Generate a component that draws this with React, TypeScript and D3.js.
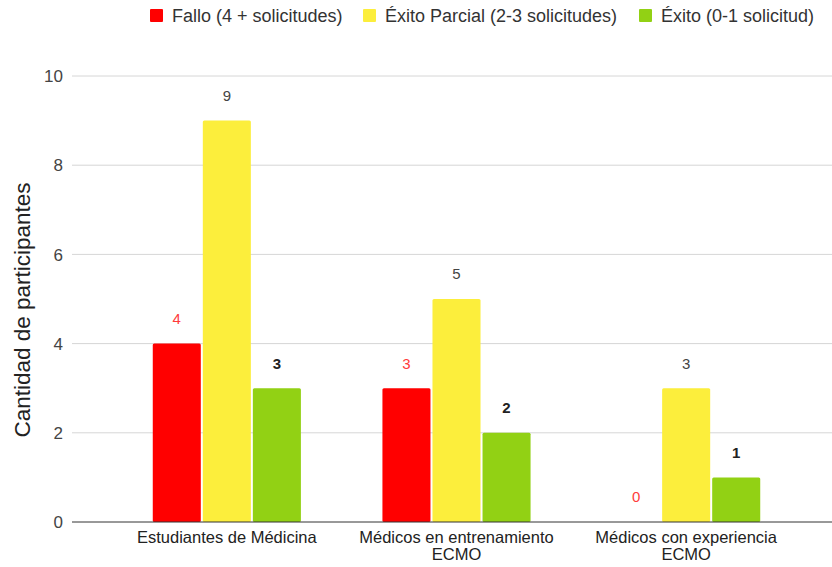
import React from "react";
import * as d3 from "d3";

const categories = ["Estudiantes de Medicina", "Médicos en entrenamiento ECMO", "Médicos con experiencia ECMO"];
const categoryLines = [["Estudiantes de Médicina"], ["Médicos en entrenamiento", "ECMO"], ["Médicos con experiencia", "ECMO"]];
const seriesNames = ["Fallo (4 + solicitudes)", "Éxito Parcial (2-3 solicitudes)", "Éxito (0-1 solicitud)"];
const fallo = [4, 3, 0];
const exitoParcial = [9, 5, 3];
const exito = [3, 2, 1];
const yTicks = [0, 2, 4, 6, 8, 10];

const seriesValues = [fallo, exitoParcial, exito];
const colors = ["#ff0000", "#fcee3c", "#92d114"];
const labelColors = ["#ff3b3b", "#444444", "#222222"];
const labelWeights = [400, 400, 700];

const W = 832;
const H = 567;
const FONT = "'Liberation Sans', Arial, sans-serif";

export default function App() {
  const y = d3.scaleLinear().domain([0, 10]).range([522, 76]);
  const x0 = d3.scaleBand<string>().domain(categories).range([112, 801]).paddingInner(0.355).paddingOuter(0.1775);
  const x1 = d3.scaleBand<string>().domain(seriesNames).range([0, x0.bandwidth()]).paddingInner(0.04);
  const legendX = [150, 363, 639];

  return (
    <svg width={W} height={H} style={{ position: "absolute", left: 0, top: 0, background: "#fff" }} fontFamily={FONT}>
      {/* gridlines and y tick labels */}
      {yTicks.map((t) => (
        <g key={t}>
          {t !== 0 && <line x1={72} x2={832} y1={y(t)} y2={y(t)} stroke="#d6d6d6" strokeWidth={1} />}
          <text x={63} y={y(t)} dy="0.36em" textAnchor="end" fontSize={17} fill="#444">{t}</text>
        </g>
      ))}
      {/* y axis title */}
      <text transform={`translate(30,${310}) rotate(-90)`} textAnchor="middle" fontSize={22.5} fill="#222">
        Cantidad de participantes
      </text>
      {/* bars */}
      {categories.map((c, ci) => (
        <g key={c} transform={`translate(${x0(c)},0)`}>
          {seriesNames.map((s, si) => {
            const v = seriesValues[si][ci];
            const bx = x1(s)!;
            return (
              <g key={s}>
                {v > 0 && (
                  <rect x={bx} y={y(v)} width={x1.bandwidth()} height={y(0) - y(v)} fill={colors[si]} rx={1.5} />
                )}
                <text x={bx + x1.bandwidth() / 2} y={y(v) - 25} dy="0.36em" textAnchor="middle" fontSize={15}
                  fill={labelColors[si]} fontWeight={labelWeights[si]}>
                  {v}
                </text>
              </g>
            );
          })}
        </g>
      ))}
      {/* baseline */}
      <line x1={72} x2={832} y1={y(0)} y2={y(0)} stroke="#333" strokeWidth={1} />
      {/* category labels */}
      {categories.map((c, ci) => (
        <text key={c} x={x0(c)! + x0.bandwidth() / 2} y={543} textAnchor="middle" fontSize={16.5} fill="#222">
          {categoryLines[ci].map((l, li) => (
            <tspan key={li} x={x0(c)! + x0.bandwidth() / 2} dy={li === 0 ? 0 : 17}>{l}</tspan>
          ))}
        </text>
      ))}
      {/* legend */}
      {seriesNames.map((s, si) => (
        <g key={s} transform={`translate(${legendX[si]},9)`}>
          <rect width={13} height={13} fill={colors[si]} rx={1} />
          <text x={22} y={6.5} dy="0.36em" fontSize={18} fill="#333">{s}</text>
        </g>
      ))}
    </svg>
  );
}
